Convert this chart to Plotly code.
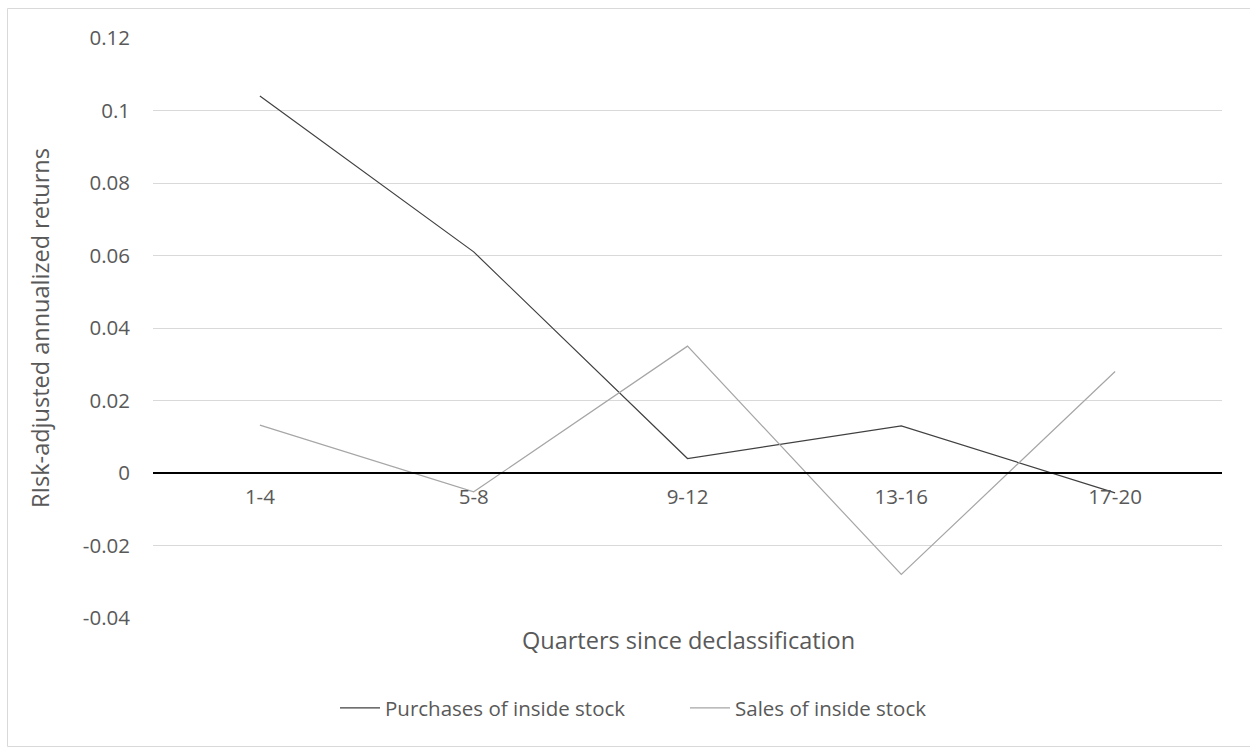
import plotly.graph_objects as go

# Holding-period buckets (quarters after declassification)
quarters = ["1-4", "5-8", "9-12", "13-16", "17-20"]

# Risk-adjusted annualized returns per bucket
purchases = [0.104, 0.061, 0.004, 0.013, -0.0055]
sales = [0.0132, -0.0052, 0.035, -0.028, 0.028]

y_ticks = [-0.04, -0.02, 0, 0.02, 0.04, 0.06, 0.08, 0.1, 0.12]
y_tick_text = ["-0.04", "-0.02", "0", "0.02", "0.04", "0.06", "0.08", "0.1", "0.12"]

FONT = "Open Sans"
TEXT = "#595959"
TICK_SIZE = 20.5
TITLE_SIZE = 23.5

fig = go.Figure()
fig.add_trace(go.Scatter(
    x=quarters, y=purchases, mode="lines", name="Purchases of inside stock",
    line=dict(color="#404040", width=1.2),
))
fig.add_trace(go.Scatter(
    x=quarters, y=sales, mode="lines", name="Sales of inside stock",
    line=dict(color="#a6a6a6", width=1.2),
))

W, H = 1250, 749
ml, mr, mt, mb = 153, 28, 38, 131
pw, ph = W - ml - mr, H - mt - mb

def px_to_paper_x(px):
    return (px - ml) / pw

def px_to_paper_y(py):
    return (H - mb - py) / ph

# Category axis crosses the value axis at zero
y_lo, y_hi = -0.04, 0.12
zero_pos = (0 - y_lo) / (y_hi - y_lo)

fig.update_layout(
    width=W, height=H,
    margin=dict(l=ml, r=mr, t=mt, b=mb),
    paper_bgcolor="white", plot_bgcolor="white",
    font=dict(family=FONT, color=TEXT, size=TICK_SIZE),
    showlegend=True,
    legend=dict(
        orientation="h", x=px_to_paper_x(685), y=px_to_paper_y(708),
        xanchor="center", yanchor="middle",
        font=dict(family=FONT, size=TICK_SIZE, color=TEXT),
        itemwidth=40, tracegroupgap=0, entrywidth=295,
    ),
    xaxis=dict(
        type="category", range=[-0.5, 4.5],
        anchor="free", position=zero_pos,
        showline=True, linecolor="black", linewidth=2,
        showgrid=False, zeroline=False, ticks="",
        tickfont=dict(family=FONT, size=TICK_SIZE, color=TEXT),
        ticklabelstandoff=5,
    ),
    yaxis=dict(
        range=[y_lo, y_hi], tickvals=y_ticks, ticktext=y_tick_text,
        showgrid=True, gridcolor="#d9d9d9", gridwidth=1,
        zeroline=False, showline=False, ticks="",
        tickfont=dict(family=FONT, size=TICK_SIZE, color=TEXT),
        ticklabelstandoff=22,
    ),
    shapes=[
        # outer chart border
        dict(type="rect", xref="paper", yref="paper",
             x0=px_to_paper_x(7.5), x1=px_to_paper_x(1255),
             y0=px_to_paper_y(746.5), y1=px_to_paper_y(8.5),
             line=dict(color="#d9d9d9", width=1), fillcolor="rgba(0,0,0,0)",
             layer="below"),
    ],
    annotations=[
        dict(text="Quarters since declassification", xref="paper", yref="paper",
             x=px_to_paper_x(688), y=px_to_paper_y(640), xanchor="center", yanchor="middle",
             showarrow=False, font=dict(family=FONT, size=TITLE_SIZE, color=TEXT)),
        dict(text="RIsk-adjusted annualized returns", xref="paper", yref="paper",
             x=px_to_paper_x(40), y=px_to_paper_y(328), xanchor="center", yanchor="middle",
             textangle=-90, showarrow=False, font=dict(family=FONT, size=TITLE_SIZE, color=TEXT)),
    ],
)

fig.write_html("out.html")
